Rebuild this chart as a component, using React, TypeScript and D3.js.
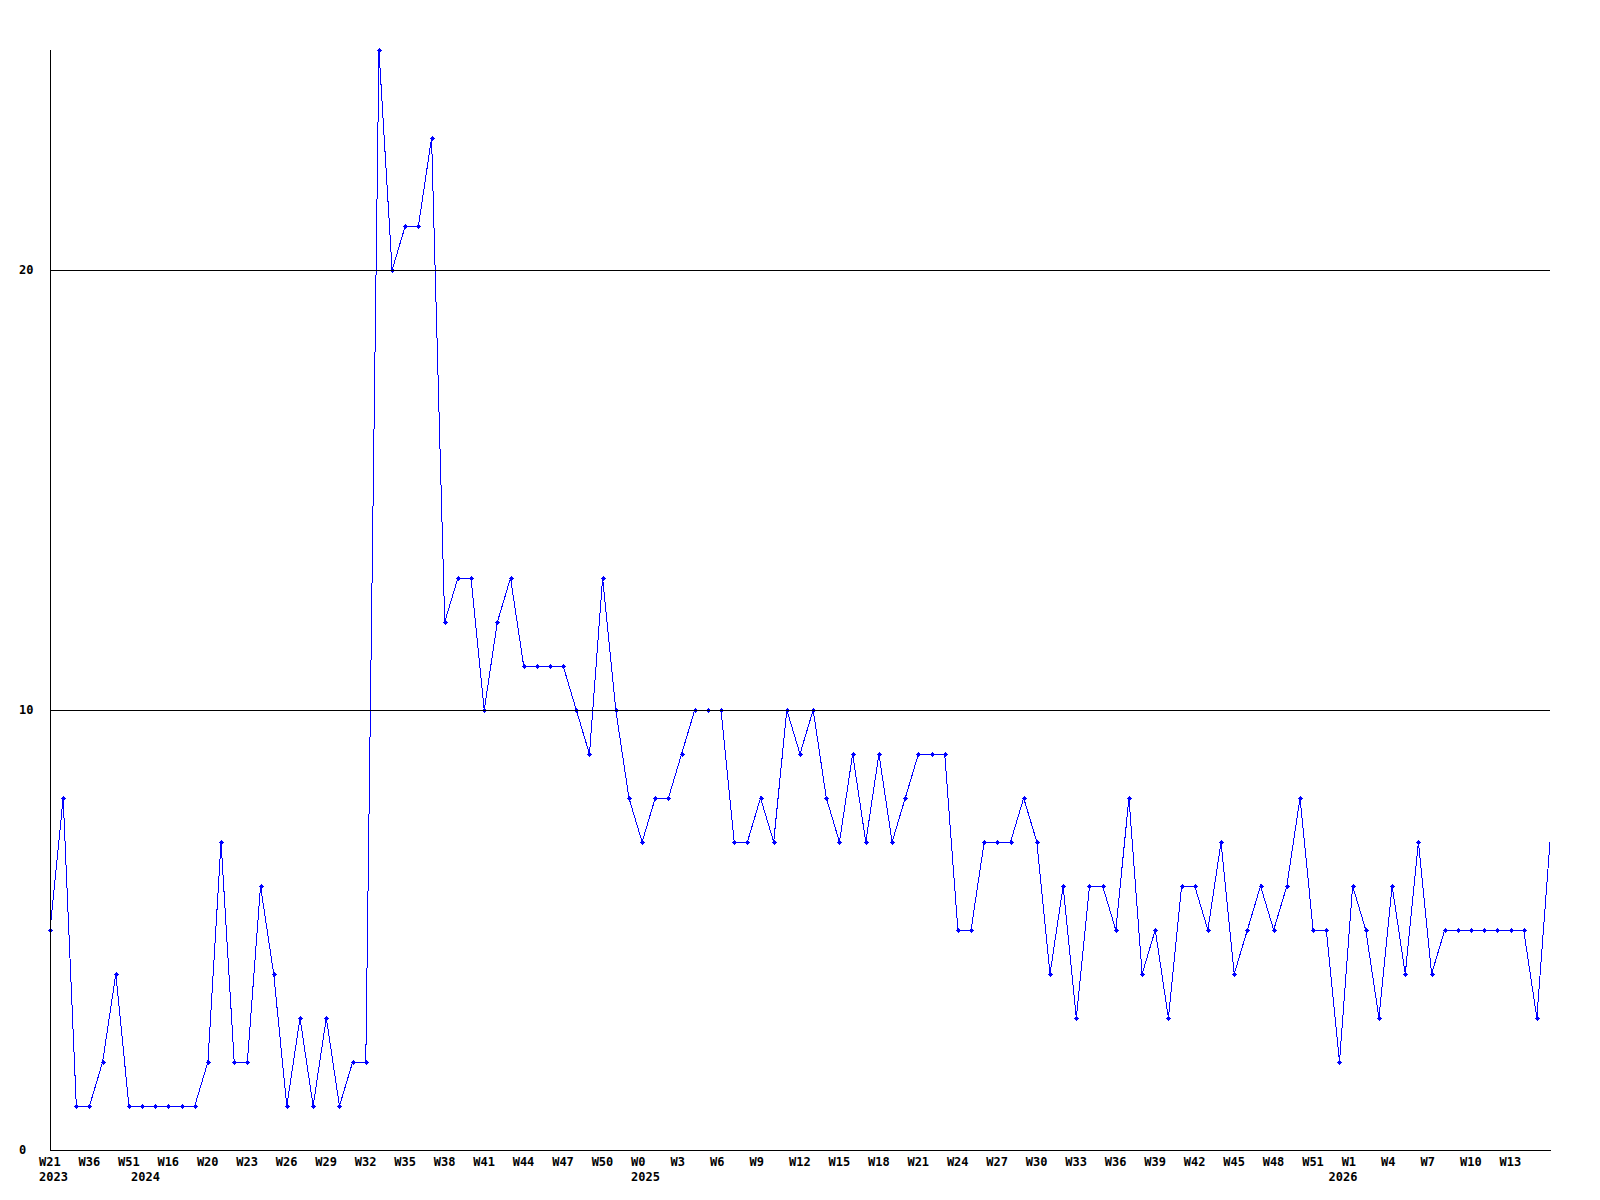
import React from "react";
import * as d3 from "d3";

const values: number[] = [
  5, 8, 1, 1, 2, 4, 1, 1, 1, 1,
  1, 1, 2, 7, 2, 2, 6, 4, 1, 3,
  1, 3, 1, 2, 2, 25, 20, 21, 21, 23,
  12, 13, 13, 10, 12, 13, 11, 11, 11, 11,
  10, 9, 13, 10, 8, 7, 8, 8, 9, 10,
  10, 10, 7, 7, 8, 7, 10, 9, 10, 8,
  7, 9, 7, 9, 7, 8, 9, 9, 9, 5,
  5, 7, 7, 7, 8, 7, 4, 6, 3, 6,
  6, 5, 8, 4, 5, 3, 6, 6, 5, 7,
  4, 5, 6, 5, 6, 8, 5, 5, 2, 6,
  5, 3, 6, 4, 7, 4, 5, 5, 5, 5,
  5, 5, 5, 3, 7,
];

// week labels shown at every 3rd point
const weekLabels: string[] = [
  "W21", "W36", "W51", "W16", "W20", "W23", "W26", "W29", "W32", "W35",
  "W38", "W41", "W44", "W47", "W50", "W0", "W3", "W6", "W9", "W12",
  "W15", "W18", "W21", "W24", "W27", "W30", "W33", "W36", "W39", "W42",
  "W45", "W48", "W51", "W1", "W4", "W7", "W10", "W13",
];
const weekLabelStep = 3;

const yearLabels: string[] = ["2023", "2024", "2025", "2026"];
const yearIndex: number[] = [0, 7, 45, 98];

const yTicks: number[] = [0, 10, 20];
const yMax = 25;

const W = 1600;
const H = 1200;
const left = 50;
const right = 1550;
const top = 50;
const bottom = 1150;

const font = "'DejaVu Sans Mono', monospace";

export default function App() {
  const x = d3.scaleLinear().domain([0, values.length - 1]).range([left, right]);
  const y = d3.scaleLinear().domain([0, yMax]).range([bottom, top]);
  const line = d3
    .line<number>()
    .x((_, i) => x(i))
    .y((d) => y(d));

  return (
    <svg
      width={W}
      height={H}
      style={{ position: "absolute", left: 0, top: 0, display: "block", background: "#fff" }}
    >
      <rect x={0} y={0} width={W} height={H} fill="#fff" />
      {/* data line */}
      <path
        d={line(values) || ""}
        fill="none"
        stroke="#0000ff"
        strokeWidth={1}
        shapeRendering="crispEdges"
      />
      {/* markers */}
      {values.map((v, i) =>
        i < values.length - 1 ? (
          <g key={i} fill="#0000ff" shapeRendering="crispEdges">
            <rect x={Math.round(x(i)) - 2.5} y={Math.round(y(v)) - 0.5} width={5} height={1} />
            <rect x={Math.round(x(i)) - 0.5} y={Math.round(y(v)) - 2.5} width={1} height={5} />
            <rect x={Math.round(x(i)) - 1.5} y={Math.round(y(v)) - 1.5} width={3} height={3} />
          </g>
        ) : null
      )}
      {/* gridlines (drawn on top) */}
      {yTicks
        .filter((t) => t > 0)
        .map((t) => (
          <line
            key={t}
            x1={left}
            x2={right}
            y1={Math.round(y(t)) + 0.5}
            y2={Math.round(y(t)) + 0.5}
            stroke="#000"
            strokeWidth={1}
            shapeRendering="crispEdges"
          />
        ))}
      {/* axes */}
      <line x1={left + 0.5} x2={left + 0.5} y1={top} y2={bottom + 1} stroke="#000" strokeWidth={1} shapeRendering="crispEdges" />
      <line x1={left} x2={right + 1} y1={bottom + 0.5} y2={bottom + 0.5} stroke="#000" strokeWidth={1} shapeRendering="crispEdges" />
      {/* y labels */}
      {yTicks.map((t) => (
        <text
          key={t}
          x={19}
          y={y(t) + 4.3}
          fontFamily={font}
          fontWeight="bold"
          fontSize={12}
          fill="#000"
        >
          {t}
        </text>
      ))}
      {/* week labels */}
      {weekLabels.map((lab, k) => (
        <text
          key={k}
          x={x(k * weekLabelStep) - 11}
          y={1165.5}
          fontFamily={font}
          fontWeight="bold"
          fontSize={12}
          fill="#000"
        >
          {lab}
        </text>
      ))}
      {/* year labels */}
      {yearLabels.map((lab, k) => (
        <text
          key={lab}
          x={x(yearIndex[k]) - 11}
          y={1180.5}
          fontFamily={font}
          fontWeight="bold"
          fontSize={12}
          fill="#000"
        >
          {lab}
        </text>
      ))}
    </svg>
  );
}
